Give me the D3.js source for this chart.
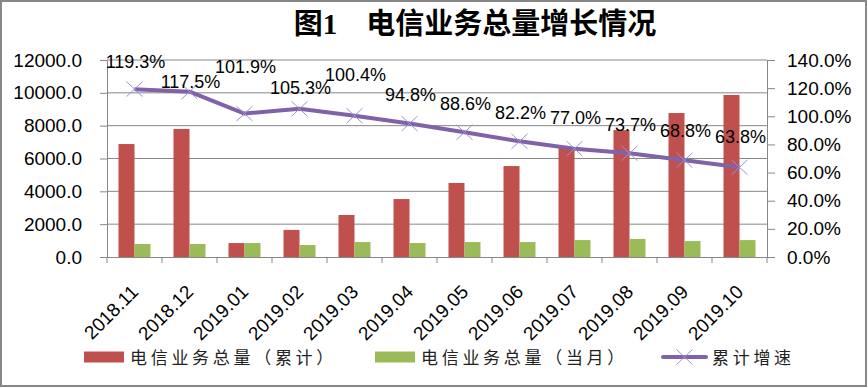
<!DOCTYPE html>
<html>
<head>
<meta charset="utf-8">
<script src="https://cdn.jsdelivr.net/npm/d3@7"></script>
<style>
  body { margin: 0; background: #fff; }
  svg { display: block; }
</style>
</head>
<body>
<svg id="chart" width="868" height="388"></svg>
<script>
const months = ["2018.11", "2018.12", "2019.01", "2019.02", "2019.03", "2019.04",
  "2019.05", "2019.06", "2019.07", "2019.08", "2019.09", "2019.10"];
const totalCumulative = [6880, 7800, 850, 1650, 2560, 3530, 4510, 5540, 6640, 7730, 8770, 9870];
const totalMonthly = [790, 790, 850, 730, 910, 850, 910, 910, 1030, 1100, 970, 1030];
const growthRate = [119.3, 117.5, 101.9, 105.3, 100.4, 94.8, 88.6, 82.2, 77.0, 73.7, 68.8, 63.8];
const leftTicks = [0, 2000, 4000, 6000, 8000, 10000, 12000];
const rightTicks = [0, 20, 40, 60, 80, 100, 120, 140];
const seriesNames = ["电信业务总量（累计）", "电信业务总量（当月）", "累计增速"];
const titleText = "图1　电信业务总量增长情况";

// label lift above each point (manual placement in the original)
const labelLift = [28, 10, 47, 21, 41, 29, 29, 29, 31, 29, 30, 31];

const redColor = "#c0504d";
const greenColor = "#9bbb59";
const lineColor = "#7f62a8";
const markerColor = "#9d8fd6";
const gridColor = "#878787";
const latin = "'Liberation Sans', Arial, sans-serif";
const cjk = "'Noto Sans CJK SC', sans-serif";

const svg = d3.select("#chart");
const plot = { left: 107, right: 767, top: 60, bottom: 257 };

// outer frame
svg.append("rect")
  .attr("x", 1).attr("y", 1).attr("width", 865).attr("height", 385)
  .attr("fill", "#fff").attr("stroke", gridColor).attr("stroke-width", 2);

// title
svg.append("text")
  .attr("x", 475).attr("y", 34)
  .attr("text-anchor", "middle")
  .style("font-family", "'Liberation Serif', 'Noto Sans CJK SC', serif")
  .style("font-size", "29px")
  .style("font-weight", "600")
  .text(titleText);

const x = d3.scaleBand().domain(months).range([plot.left, plot.right]);
const yLeft = d3.scaleLinear().domain([0, 12000]).range([plot.bottom, plot.top]);
const yRight = d3.scaleLinear().domain([0, 140]).range([plot.bottom, plot.top]);

// gridlines
svg.append("g").selectAll("line")
  .data(leftTicks.slice(1))
  .join("line")
  .attr("x1", plot.left).attr("x2", plot.right)
  .attr("y1", (d) => yLeft(d)).attr("y2", (d) => yLeft(d))
  .attr("stroke", gridColor).attr("stroke-width", 1);

// left axis
const leftAxis = svg.append("g")
  .attr("transform", `translate(${plot.left},0)`)
  .call(d3.axisLeft(yLeft).tickValues(leftTicks).tickFormat(d3.format(".1f"))
    .tickSize(7).tickSizeOuter(0).tickPadding(18));
leftAxis.select(".domain").attr("stroke", gridColor);
leftAxis.selectAll(".tick line").attr("stroke", gridColor);
leftAxis.selectAll("text").style("font-family", latin).style("font-size", "19px").attr("fill", "#000");

// right axis
const rightAxis = svg.append("g")
  .attr("transform", `translate(${plot.right},0)`)
  .call(d3.axisRight(yRight).tickValues(rightTicks).tickFormat((d) => d.toFixed(1) + "%")
    .tickSize(8).tickSizeOuter(0).tickPadding(12));
rightAxis.select(".domain").attr("stroke", gridColor);
rightAxis.selectAll(".tick line").attr("stroke", gridColor);
rightAxis.selectAll("text").style("font-family", latin).style("font-size", "19px").attr("fill", "#000");

// bottom axis
const bottomAxis = svg.append("g")
  .attr("transform", `translate(0,${plot.bottom})`)
  .call(d3.axisBottom(x).tickSize(0).tickSizeOuter(0).tickFormat(""));
bottomAxis.select(".domain").attr("stroke", gridColor);
svg.append("g").selectAll("line")
  .data(months.map((m) => x(m)).concat([x(months[months.length - 1]) + x.bandwidth()]))
  .join("line")
  .attr("x1", (d) => d).attr("x2", (d) => d)
  .attr("y1", plot.bottom).attr("y2", plot.bottom + 6)
  .attr("stroke", gridColor);

svg.append("g").selectAll("text")
  .data(months)
  .join("text")
  .attr("transform", (d) => `translate(${x(d) + x.bandwidth() / 2 + 5},${plot.bottom + 36}) rotate(-45)`)
  .attr("text-anchor", "end")
  .style("font-family", latin).style("font-size", "19px")
  .text((d) => d);

// bars
const barW = 16;
const bars = svg.append("g");
bars.selectAll(".cum")
  .data(totalCumulative)
  .join("rect")
  .attr("x", (d, i) => x(months[i]) + x.bandwidth() / 2 - barW)
  .attr("y", (d) => yLeft(d))
  .attr("width", barW)
  .attr("height", (d) => plot.bottom - yLeft(d))
  .attr("fill", redColor);
bars.selectAll(".mon")
  .data(totalMonthly)
  .join("rect")
  .attr("x", (d, i) => x(months[i]) + x.bandwidth() / 2)
  .attr("y", (d) => yLeft(d))
  .attr("width", barW)
  .attr("height", (d) => plot.bottom - yLeft(d))
  .attr("fill", greenColor);

// growth line
const cx = (i) => x(months[i]) + x.bandwidth() / 2;
svg.append("path")
  .datum(growthRate)
  .attr("fill", "none")
  .attr("stroke", lineColor)
  .attr("stroke-width", 4)
  .attr("stroke-linejoin", "round")
  .attr("d", d3.line().x((d, i) => cx(i)).y((d) => yRight(d)));

const crossPath = "M-8,-7.5L8,7.5M-8,7.5L8,-7.5";
svg.append("g").selectAll("path")
  .data(growthRate)
  .join("path")
  .attr("transform", (d, i) => `translate(${cx(i)},${yRight(d)})`)
  .attr("d", crossPath)
  .attr("stroke", markerColor)
  .attr("stroke-width", 1)
  .attr("fill", "none");

svg.append("g").selectAll("text")
  .data(growthRate)
  .join("text")
  .attr("x", (d, i) => cx(i) + 1)
  .attr("y", (d, i) => yRight(d) - labelLift[i] + 6.5)
  .attr("text-anchor", "middle")
  .style("font-family", latin).style("font-size", "18px")
  .text((d) => d.toFixed(1) + "%");

// legend
const legend = svg.append("g").attr("transform", "translate(0,357)");
const legendItems = [
  { name: seriesNames[0], kind: "bar", color: redColor, x: 84 },
  { name: seriesNames[1], kind: "bar", color: greenColor, x: 375 },
  { name: seriesNames[2], kind: "line", color: lineColor, x: 663 },
];
legendItems.forEach((item) => {
  const g = legend.append("g").attr("transform", `translate(${item.x},0)`);
  if (item.kind === "bar") {
    g.append("rect").attr("x", 0).attr("y", -5.5).attr("width", 40).attr("height", 11).attr("fill", item.color);
  } else {
    g.append("line").attr("x1", 0).attr("x2", 43).attr("y1", 0).attr("y2", 0)
      .attr("stroke", item.color).attr("stroke-width", 4).attr("stroke-linecap", "round");
    g.append("path").attr("transform", "translate(21.5,0)").attr("d", crossPath)
      .attr("stroke", markerColor).attr("fill", "none");
  }
  g.append("text")
    .attr("x", item.kind === "bar" ? 46 : 49)
    .attr("y", 6.5)
    .style("font-family", cjk).style("font-size", "17px")
    .style("letter-spacing", "3.7px")
    .attr("fill", "#222")
    .text(item.name);
});
</script>
</body>
</html>
